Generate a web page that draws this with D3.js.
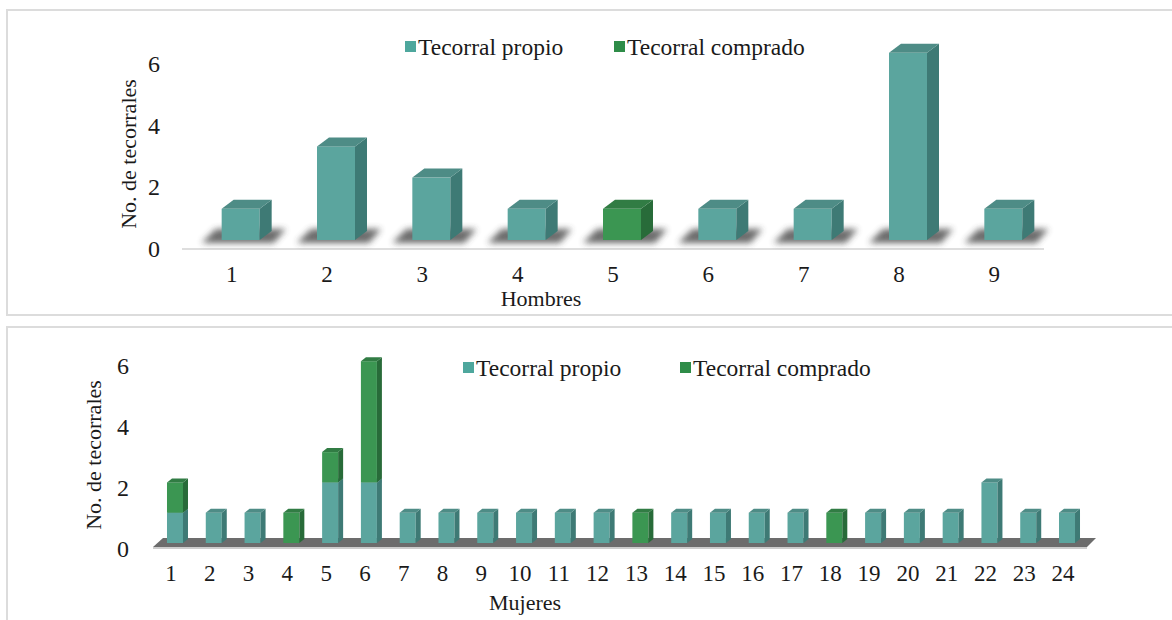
<!DOCTYPE html>
<html>
<head>
<meta charset="utf-8">
<script src="https://cdn.jsdelivr.net/npm/d3@7"></script>
<style>
  body { margin: 0; background: #fff; }
  svg text { font-family: "Liberation Serif", "Times New Roman", serif; fill: #1a1a1a; }
</style>
</head>
<body>
<div id="chart"></div>
<script>
// datos
var hombres = ["1", "2", "3", "4", "5", "6", "7", "8", "9"];
var hombresPropio = [1, 3, 2, 1, 0, 1, 1, 6, 1];
var hombresComprado = [0, 0, 0, 0, 1, 0, 0, 0, 0];

var mujeres = ["1","2","3","4","5","6","7","8","9","10","11","12","13","14","15","16","17","18","19","20","21","22","23","24"];
var mujeresPropio =   [1, 1, 1, 0, 2, 2, 1, 1, 1, 1, 1, 1, 0, 1, 1, 1, 1, 0, 1, 1, 1, 2, 1, 1];
var mujeresComprado = [1, 0, 0, 1, 1, 4, 0, 0, 0, 0, 0, 0, 1, 0, 0, 0, 0, 1, 0, 0, 0, 0, 0, 0];

var yTicks = [0, 2, 4, 6];
var series = ["Tecorral propio", "Tecorral comprado"];

var colors = {
  propio:   { front: "#5ba59e", side: "#3e7a75", top: "#4e8c86", legend: "#4ea79d" },
  comprado: { front: "#3b9652", side: "#286b39", top: "#317c44", legend: "#2e8c48" }
};

const svg = d3.select("#chart").append("svg")
  .attr("width", 1172)
  .attr("height", 620);

const defs = svg.append("defs");
defs.append("filter").attr("id", "blur")
  .attr("x", "-20%").attr("y", "-50%").attr("width", "140%").attr("height", "200%")
  .append("feGaussianBlur").attr("stdDeviation", 3);

// marcos de los paneles
svg.append("path")
  .attr("d", "M1172,10 H7 V315 H1172")
  .attr("fill", "none").attr("stroke", "#dcdcdc").attr("stroke-width", 2);
svg.append("path")
  .attr("d", "M1172,327 H7 V620")
  .attr("fill", "none").attr("stroke", "#dcdcdc").attr("stroke-width", 2);

function drawPanel(cfg) {
  const g = svg.append("g");

  const x = d3.scaleBand().domain(cfg.cats).range(cfg.xRange);
  const yBar = d3.scaleLinear().domain([0, 6]).range([cfg.base, cfg.base - 6 * cfg.unit]);
  const yAxisScale = d3.scaleLinear().domain([0, 6]).range(cfg.axisRange);

  // piso
  if (cfg.floor === "line") {
    g.append("line")
      .attr("x1", cfg.floorX[0]).attr("x2", cfg.floorX[1])
      .attr("y1", cfg.floorY).attr("y2", cfg.floorY)
      .attr("stroke", "#dedede").attr("stroke-width", 2);
  } else {
    const fx0 = cfg.floorX[0], fx1 = cfg.floorX[1];
    g.append("polygon")
      .attr("points", [[fx0 + 10, cfg.floorY - 9], [fx1, cfg.floorY - 9], [fx1 - 9, cfg.floorY], [fx0, cfg.floorY]].join(" "))
      .attr("fill", "#6c6c6c");
    g.append("line")
      .attr("x1", fx0).attr("x2", fx1 - 9)
      .attr("y1", cfg.floorY + 1).attr("y2", cfg.floorY + 1)
      .attr("stroke", "#bdbdbd").attr("stroke-width", 1.5);
  }

  // datos apilados
  const rows = cfg.cats.map((c, i) => ({ cat: c, propio: cfg.propio[i], comprado: cfg.comprado[i] }));
  const stack = d3.stack().keys(["propio", "comprado"])(rows);

  // sombras (solo panel superior)
  if (cfg.shadow) {
    g.selectAll(".shadow")
      .data(rows)
      .join("polygon")
      .attr("points", d => {
        const x0 = x(d.cat) + x.bandwidth() / 2 + cfg.offset - cfg.barW / 2;
        const x1 = x0 + cfg.barW + cfg.dx;
        return [[x0 - 6, cfg.base - 11], [x1 + 14, cfg.base - 11], [x1 + 2, cfg.base + 3], [x0 - 20, cfg.base + 3]].join(" ");
      })
      .attr("fill", "#3a3a3a")
      .attr("opacity", 0.75)
      .attr("filter", "url(#blur)");
  }

  stack.forEach(layer => {
    const key = layer.key;
    const c = colors[key];
    const segs = layer.filter(d => d[1] - d[0] > 0);
    const bars = g.selectAll(".bar-" + key)
      .data(segs)
      .join("g");

    const left = d => x(d.data.cat) + x.bandwidth() / 2 + cfg.offset - cfg.barW / 2;
    const right = d => left(d) + cfg.barW;

    bars.append("rect")
      .attr("x", left)
      .attr("y", d => yBar(d[1]))
      .attr("width", cfg.barW)
      .attr("height", d => yBar(d[0]) - yBar(d[1]))
      .attr("fill", c.front);

    bars.append("polygon")
      .attr("points", d => [[right(d), yBar(d[1])], [right(d) + cfg.dx, yBar(d[1]) - cfg.dy],
        [right(d) + cfg.dx, yBar(d[0]) - cfg.dy], [right(d), yBar(d[0])]].join(" "))
      .attr("fill", c.side);

    bars.append("polygon")
      .attr("points", d => [[left(d), yBar(d[1])], [left(d) + cfg.dx, yBar(d[1]) - cfg.dy],
        [right(d) + cfg.dx, yBar(d[1]) - cfg.dy], [right(d), yBar(d[1])]].join(" "))
      .attr("fill", c.top);
  });

  // eje y
  const yAxis = g.append("g")
    .attr("transform", `translate(${cfg.yTickX},0)`)
    .call(d3.axisLeft(yAxisScale).tickValues(yTicks).tickFormat(d3.format("d")).tickSize(0).tickPadding(0));
  yAxis.select(".domain").remove();
  yAxis.selectAll("text")
    .attr("x", 0).attr("dy", "0.35em")
    .attr("text-anchor", "middle")
    .style("font-family", "'Liberation Serif', serif")
    .style("font-size", "24px")
    .attr("fill", "#1a1a1a");

  // eje x
  const xAxis = g.append("g")
    .attr("transform", `translate(0,${cfg.xTickY})`)
    .call(d3.axisBottom(x).tickSize(0).tickPadding(0));
  xAxis.select(".domain").remove();
  xAxis.selectAll("text")
    .attr("y", 0).attr("dy", "0.35em")
    .style("font-family", "'Liberation Serif', serif")
    .style("font-size", cfg.xTickSize)
    .attr("fill", "#1a1a1a");

  // títulos
  g.append("text")
    .attr("x", cfg.xTitle[0]).attr("y", cfg.xTitle[1])
    .attr("dy", "0.35em")
    .attr("text-anchor", "middle")
    .style("font-size", "22px")
    .text(cfg.xLabel);

  g.append("text")
    .attr("transform", `translate(${cfg.yTitle[0]},${cfg.yTitle[1]}) rotate(-90)`)
    .attr("dy", "0.35em")
    .attr("text-anchor", "middle")
    .style("font-size", "22px")
    .text("No. de tecorrales");

  // leyenda
  const leg = g.selectAll(".legend")
    .data(series)
    .join("g")
    .attr("transform", (d, i) => `translate(${cfg.legendX[i]},${cfg.legendY})`);
  leg.append("rect")
    .attr("x", 0).attr("y", -6)
    .attr("width", 11).attr("height", 11)
    .attr("fill", (d, i) => i === 0 ? colors.propio.legend : colors.comprado.legend);
  leg.append("text")
    .attr("x", 13).attr("dy", "0.35em")
    .style("font-size", "23.5px")
    .text(d => d);
}

drawPanel({
  cats: hombres, propio: hombresPropio, comprado: hombresComprado,
  xRange: [184, 1042], base: 240, unit: 31.2, axisRange: [248, 63],
  barW: 38, dx: 12, dy: 9, offset: 9, shadow: true,
  floor: "line", floorX: [182, 1044], floorY: 249,
  yTickX: 154, xTickY: 274, xTickSize: "23px",
  xLabel: "Hombres", xTitle: [541, 298], yTitle: [128, 154],
  legendX: [405, 614], legendY: 47
});

drawPanel({
  cats: mujeres, propio: mujeresPropio, comprado: mujeresComprado,
  xRange: [151.6, 1082.4], base: 543, unit: 30.3, axisRange: [548, 365],
  barW: 16, dx: 5, dy: 4, offset: 4, shadow: false,
  floor: "slab", floorX: [153, 1096], floorY: 547,
  yTickX: 123, xTickY: 573, xTickSize: "23px",
  xLabel: "Mujeres", xTitle: [525, 602], yTitle: [93, 455],
  legendX: [463, 680], legendY: 368
});
</script>
</body>
</html>
